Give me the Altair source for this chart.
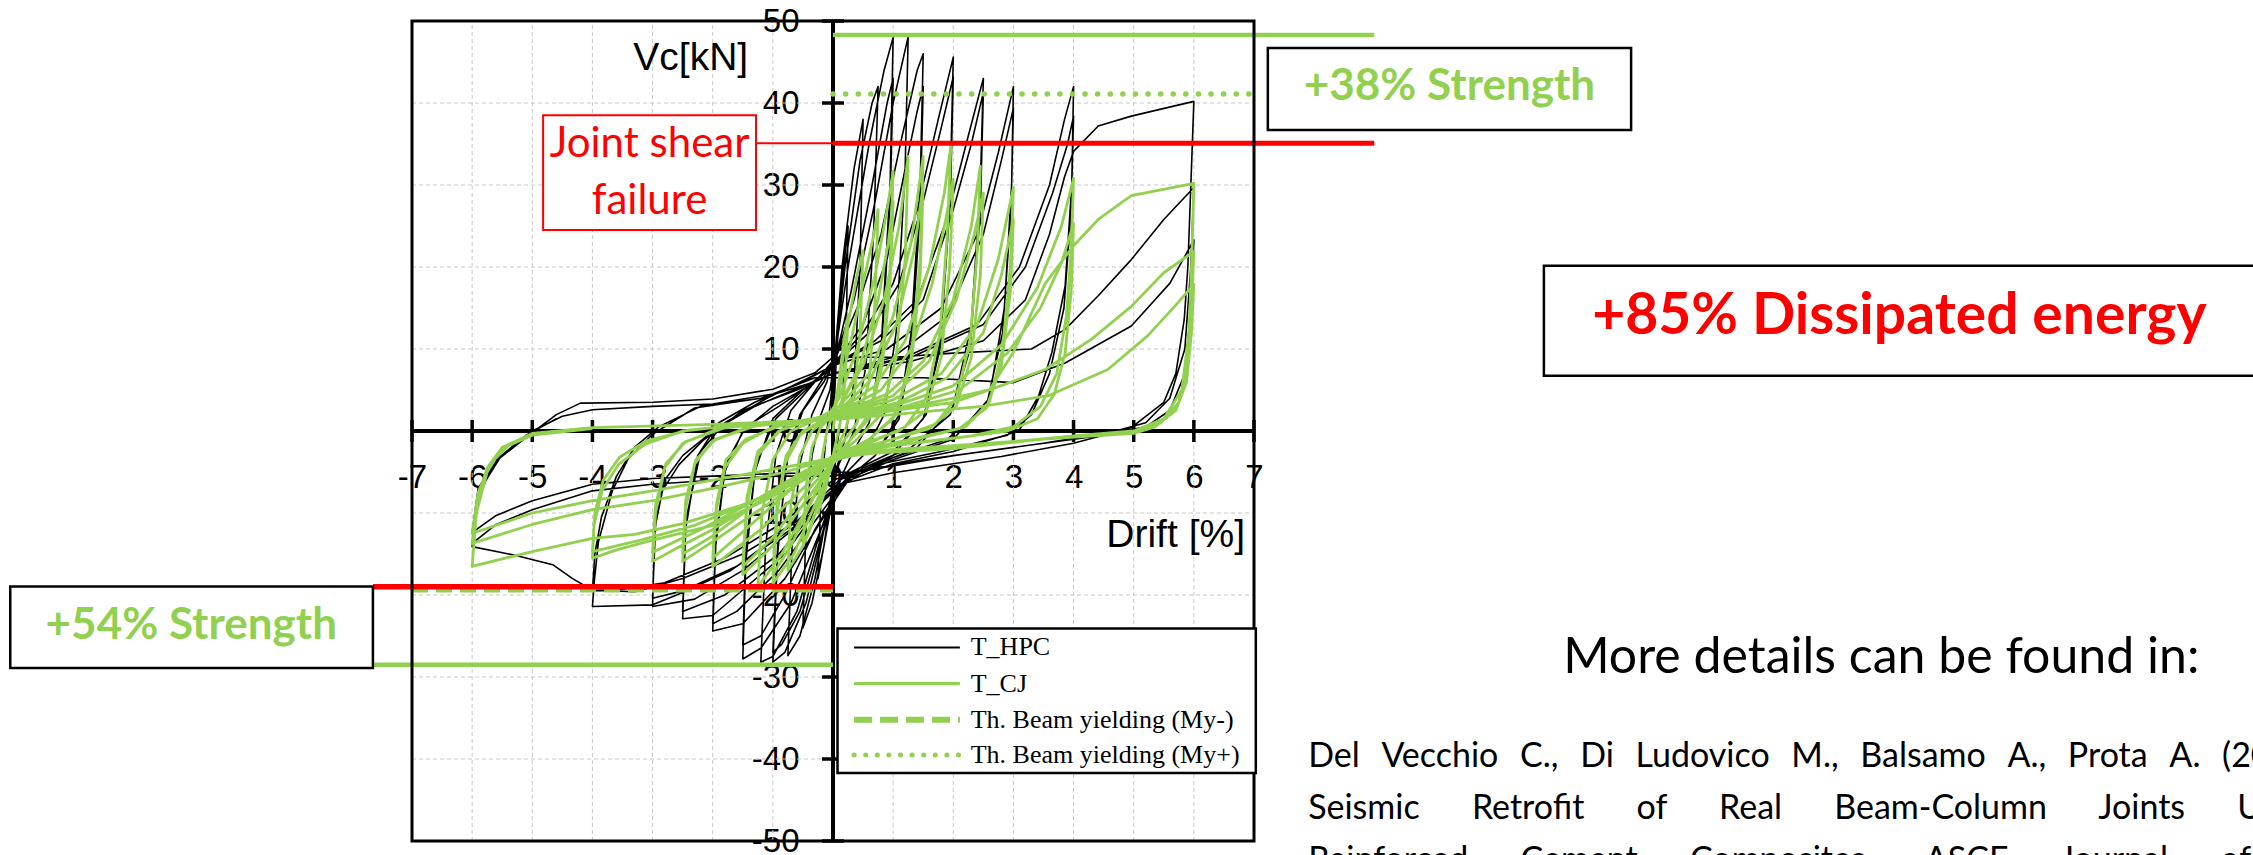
import altair as alt
import pandas as pd

# ---------------- data ----------------
X_TICKS = list(range(-7, 8))
Y_TICKS = list(range(-50, 60, 10))

# T_HPC hysteresis (drift %, Vc kN)
HPC = [
    # 0.25 %
    (0.0, 0.0), (0.05, 8), (0.12, 16), (0.25, 25), (0.22, 12), (0.15, 3), (0.05, -3), (-0.05, -10), (-0.25, -18), (-0.2, -8), (-0.12, -1), (-0.05, 3),
    # 0.5 %
    (0.02, 8), (0.15, 20), (0.35, 32), (0.5, 38), (0.45, 20), (0.35, 6), (0.2, -1), (0.0, -6), (-0.15, -14), (-0.35, -21), (-0.5, -24), (-0.45, -12), (-0.35, -3), (-0.2, 2), (-0.05, 5),
    # 0.75 %
    (0.05, 10), (0.2, 20), (0.45, 33), (0.65, 40), (0.75, 42), (0.68, 25), (0.55, 8), (0.35, 0), (0.1, -4), (-0.1, -10), (-0.3, -18), (-0.55, -25), (-0.75, -27.4), (-0.68, -14), (-0.55, -4), (-0.35, 2), (-0.1, 6),
    # 1.0 %
    (0.05, 10), (0.25, 20), (0.6, 35), (0.85, 44), (1.0, 48), (0.95, 30), (0.8, 10), (0.6, 1), (0.3, -3), (0.05, -7), (-0.15, -12), (-0.45, -21), (-0.8, -27), (-1.0, -28.2), (-0.92, -15), (-0.78, -4), (-0.55, 2), (-0.2, 6),
    (0.05, 9), (0.3, 17), (0.65, 30), (0.9, 40), (1.0, 43), (0.95, 28), (0.8, 9), (0.6, 1), (0.3, -3), (0.05, -7), (-0.2, -13), (-0.55, -22), (-0.85, -26), (-1.0, -27), (-0.92, -14), (-0.75, -3), (-0.5, 2.5), (-0.15, 6),
    # 1.25 %
    (0.05, 9), (0.35, 16), (0.7, 28), (1.0, 40), (1.25, 48.1), (1.2, 32), (1.05, 12), (0.85, 2), (0.5, -3), (0.1, -6), (-0.2, -12), (-0.6, -22), (-1.0, -27.5), (-1.2, -28.2), (-1.12, -14), (-0.95, -3), (-0.7, 2.5), (-0.3, 6),
    # 1.5 %
    (0.05, 9), (0.4, 15), (0.8, 24), (1.15, 36), (1.4, 44), (1.5, 46), (1.45, 30), (1.3, 12), (1.1, 2), (0.7, -3), (0.2, -6), (-0.2, -12), (-0.7, -21), (-1.2, -26.5), (-1.5, -27.8), (-1.45, -16), (-1.3, -5), (-1.0, 1.5), (-0.5, 5),
    (0.0, 8), (0.5, 13), (0.9, 21), (1.2, 32), (1.4, 39), (1.5, 42), (1.45, 27), (1.3, 10), (1.1, 1.5), (0.7, -3), (0.2, -6), (-0.3, -12), (-0.8, -20), (-1.2, -25), (-1.5, -26.1), (-1.45, -14), (-1.28, -4), (-0.95, 1.5), (-0.45, 5),
    # 2.0 %
    (0.0, 8), (0.5, 12), (1.0, 18), (1.4, 27), (1.75, 38), (2.0, 45.6), (1.95, 30), (1.8, 12), (1.55, 2), (1.0, -3), (0.3, -5.5), (-0.2, -11), (-0.8, -18), (-1.5, -23.5), (-2.0, -24.4), (-1.95, -14), (-1.8, -5), (-1.5, 0), (-1.0, 3), (-0.4, 5.5),
    (0.0, 8), (0.6, 12), (1.1, 18), (1.5, 28), (1.8, 37), (2.0, 43.2), (1.95, 28), (1.78, 10), (1.5, 1.5), (1.0, -2.5), (0.3, -5), (-0.2, -10), (-0.9, -17), (-1.6, -22), (-2.0, -23.5), (-1.95, -13), (-1.78, -4), (-1.45, 0.5), (-0.9, 3), (-0.3, 6),
    # 2.5 %
    (0.0, 8), (0.7, 11), (1.4, 16), (1.9, 26), (2.25, 36), (2.5, 43), (2.45, 30), (2.3, 13), (2.0, 3), (1.4, -2), (0.6, -4.5), (-0.1, -8), (-0.8, -15), (-1.6, -20), (-2.0, -22.5), (-2.5, -22.9), (-2.45, -12), (-2.25, -3), (-1.9, 1), (-1.3, 3.5), (-0.5, 6),
    (0.0, 8), (0.8, 11), (1.5, 16), (2.0, 27), (2.3, 35), (2.5, 41.3), (2.45, 27), (2.28, 10), (1.95, 2), (1.3, -2), (0.5, -4.5), (-0.1, -8), (-0.9, -15), (-1.8, -20), (-2.5, -22), (-2.45, -11), (-2.2, -2.5), (-1.8, 1), (-1.1, 4), (-0.4, 6.5),
    # 3.0 %
    (0.0, 8), (0.9, 10), (1.8, 15), (2.4, 24), (2.75, 34), (3.0, 42), (2.97, 30), (2.85, 15), (2.6, 4), (2.0, -1), (1.0, -3.5), (0.2, -6), (-0.5, -11), (-1.5, -17), (-2.3, -20.5), (-3.0, -21.4), (-2.97, -13), (-2.9, -8), (-2.56, -4.1), (-2.17, -1.2), (-1.5, 2.5), (-0.6, 5),
    (0.0, 7), (1.0, 9), (1.9, 14), (2.5, 24), (2.8, 33), (3.0, 39.4), (2.96, 27), (2.82, 12), (2.55, 3), (1.9, -1), (0.9, -3.5), (0.1, -6), (-0.6, -11), (-1.6, -16.5), (-2.5, -19.5), (-3.0, -20.4), (-2.95, -11.4), (-2.8, -6), (-2.5, -3), (-2.0, 0), (-1.3, 3), (-0.5, 5.5),
    # 4.0 %
    (0.0, 7), (1.2, 9), (2.4, 13), (3.1, 20), (3.6, 30), (3.85, 38), (4.0, 42), (3.97, 30), (3.86, 17.7), (3.64, 9.6), (3.42, 4.3), (3.09, 0), (2.0, -2.5), (1.0, -4), (0.1, -6.5), (-0.7, -12), (-1.7, -17), (-2.6, -20), (-3.0, -21.2), (-4.0, -21.4), (-3.97, -18.4), (-3.9, -13.5), (-3.67, -7.3), (-3.4, -3.3), (-3.0, -0.4), (-2.3, 2.8), (-1.2, 4), (-0.3, 6),
    (0.0, 7), (1.3, 9), (2.5, 13), (3.2, 20), (3.65, 29), (3.9, 35), (4.0, 38.4), (3.96, 27), (3.84, 15), (3.6, 7), (3.3, 2), (2.9, -0.5), (1.8, -2.5), (0.8, -4), (0.0, -6), (-0.8, -11), (-1.8, -15.5), (-2.8, -18.5), (-3.5, -19.3), (-4.0, -19.5), (-3.96, -15), (-3.85, -10.5), (-3.6, -5.5), (-3.3, -2), (-2.9, 0.5), (-2.2, 3), (-1.2, 4), (-0.3, 6),
    # 6.0 %
    (0.0, 7), (1.3, 8.5), (2.5, 11), (3.2, 16), (3.6, 24), (3.85, 31), (4.0, 34.1), (4.41, 37.2), (4.96, 38.4), (6.0, 40.2), (5.95, 30), (5.9, 20), (5.84, 13.6), (5.7, 7), (5.5, 3.5), (4.96, 0.4), (4.0, -1.5), (2.8, -3.1), (1.0, -5.1), (0.1, -6.5), (-0.6, -11), (-1.5, -15), (-2.5, -18), (-3.3, -19.6), (-4.0, -19.4), (-4.33, -18.0), (-4.66, -16.3), (-5.32, -15.1), (-6.0, -14.1), (-5.88, -7.3), (-5.54, -3.3), (-5.0, -0.2), (-4.6, 2), (-4.2, 3.4), (-3.0, 3.5), (-2.0, 3.9), (-1.0, 5.1), (-0.3, 7.1),
    (0.0, 9), (1.0, 9), (2.0, 9.5), (3.3, 10), (3.86, 12.4), (4.41, 16.5), (4.96, 20.9), (5.5, 25.8), (6.0, 29.7), (5.95, 20), (5.85, 10), (5.6, 4), (5.2, 1), (4.7, 0), (3.5, -1.5), (2.0, -3), (0.8, -4.5), (0.0, -5.5), (-1.0, -5.5), (-2.0, -6), (-3.0, -6.5), (-4.0, -7.3), (-5.0, -9.6), (-5.6, -11.4), (-6.0, -13.7), (-5.88, -7), (-5.55, -3.2), (-5.0, 0), (-4.5, 1.8), (-4.0, 2.6), (-3.0, 3), (-2.0, 3.3), (-1.0, 4.5), (-0.3, 6.5),
    (0.0, 6.5), (1.5, 6.5), (3.0, 5.9), (3.86, 8.3), (4.96, 12.8), (5.6, 18), (6.0, 23.3), (5.95, 15), (5.85, 7), (5.6, 2.5), (5.2, 0.5), (4.5, -0.5), (3.0, -2), (1.5, -3.5), (0.3, -5), (-1.0, -5.2), (-2.0, -5.5), (-3.0, -5.8), (-4.0, -6.5), (-5.0, -8.5), (-5.6, -10.3), (-6.0, -12.4), (-5.9, -7), (-5.6, -3.5), (-5.1, -0.5), (-4.6, 1.5),
]

# T_CJ hysteresis (drift %, Vc kN)
CJ = [
    # 0.25 %
    (0.0, 0.0), (0.08, 5), (0.18, 11), (0.25, 14), (0.2, 6), (0.12, 1), (0.0, -3), (-0.12, -7), (-0.25, -10), (-0.2, -4), (-0.1, 0), (0.0, 2),
    # 0.5 %
    (0.08, 5), (0.25, 13), (0.4, 19), (0.5, 22), (0.45, 12), (0.35, 4), (0.2, 0), (0.0, -3), (-0.2, -8), (-0.38, -12), (-0.5, -14), (-0.45, -7), (-0.35, -2), (-0.2, 0.5), (0.0, 2),
    # 0.75 %
    (0.1, 5), (0.3, 11), (0.5, 18), (0.68, 24), (0.75, 27), (0.7, 16), (0.6, 6), (0.4, 1), (0.15, -1.5), (0.0, -4), (-0.25, -9), (-0.5, -14), (-0.75, -17), (-0.7, -9), (-0.55, -3), (-0.35, 0), (-0.1, 1.5),
    # 1.0 %
    (0.1, 4), (0.4, 10), (0.7, 19), (0.9, 27), (1.0, 31.7), (0.95, 20), (0.82, 9), (0.6, 2), (0.3, -1), (0.0, -4), (-0.3, -9), (-0.65, -15), (-1.0, -18.6), (-0.93, -10), (-0.8, -4), (-0.55, -0.5), (-0.2, 1.2),
    (0.1, 3), (0.45, 8), (0.75, 16), (0.92, 23), (1.0, 28), (0.95, 18), (0.82, 8), (0.6, 1.5), (0.3, -1), (0.0, -3.5), (-0.35, -8.5), (-0.7, -14), (-1.0, -17.5), (-0.93, -9), (-0.78, -3), (-0.5, 0), (-0.2, 1.2),
    # 1.25 %
    (0.1, 3), (0.5, 8), (0.85, 16), (1.1, 25), (1.25, 33.5), (1.2, 21), (1.05, 9), (0.8, 2), (0.4, -1), (0.0, -3.5), (-0.4, -9), (-0.85, -15), (-1.25, -19), (-1.18, -10), (-1.0, -3.5), (-0.7, 0), (-0.3, 1.3),
    # 1.5 %
    (0.1, 3), (0.6, 7), (1.0, 14), (1.3, 23), (1.5, 33.5), (1.45, 21), (1.3, 9), (1.05, 2), (0.6, -1), (0.1, -3), (-0.4, -8), (-1.0, -14), (-1.5, -17.5), (-1.43, -9), (-1.25, -3), (-0.9, 0), (-0.4, 1.3),
    (0.1, 2.5), (0.6, 6), (1.05, 13), (1.35, 22), (1.5, 30), (1.45, 19), (1.3, 8), (1.0, 1.5), (0.6, -1), (0.1, -3), (-0.45, -7.5), (-1.0, -13), (-1.5, -16.5), (-1.43, -8), (-1.25, -2.5), (-0.85, 0.2), (-0.4, 1.3),
    # 2.0 %
    (0.1, 2.5), (0.7, 5.5), (1.2, 11), (1.6, 20), (1.85, 29), (1.96, 34.8), (1.9, 24), (1.78, 12), (1.55, 4), (1.2, 0.5), (0.6, -1.5), (0.0, -3.3), (-0.5, -7), (-1.2, -12), (-2.0, -16.5), (-1.95, -10), (-1.8, -4.5), (-1.5, -1.5), (-1.0, 0.5), (-0.4, 1.3),
    (0.1, 2.3), (0.8, 5), (1.3, 10), (1.65, 18), (1.88, 26), (2.0, 30.7), (1.94, 20), (1.8, 9), (1.55, 2.5), (1.1, 0), (0.5, -1.5), (0.0, -3), (-0.6, -6.5), (-1.3, -11), (-2.0, -15.5), (-1.94, -9), (-1.78, -3.5), (-1.45, -1), (-0.9, 0.6), (-0.3, 1.3),
    # 2.5 %
    (0.1, 2.2), (0.9, 4.5), (1.5, 8.5), (2.0, 16), (2.3, 25), (2.45, 32.3), (2.4, 22), (2.28, 11), (2.05, 4), (1.7, 0.8), (1.0, -1), (0.2, -2.8), (-0.5, -6), (-1.3, -10), (-2.0, -13.5), (-2.5, -15.9), (-2.45, -9.5), (-2.3, -4), (-2.0, -1.2), (-1.4, 0.5), (-0.6, 1.2),
    (0.1, 2), (1.0, 4.3), (1.6, 8.5), (2.05, 16), (2.35, 24), (2.5, 29), (2.45, 19), (2.3, 9), (2.05, 3), (1.6, 0.3), (0.9, -1.2), (0.1, -2.8), (-0.6, -5.5), (-1.4, -9.5), (-2.0, -12.8), (-2.5, -15), (-2.45, -8.5), (-2.28, -3.5), (-1.95, -1), (-1.3, 0.6), (-0.5, 1.3),
    # 3.0 %
    (0.1, 2), (1.0, 3.8), (1.8, 7), (2.4, 13), (2.75, 21), (3.0, 29.7), (2.95, 20), (2.82, 10), (2.6, 3.5), (2.2, 0.5), (1.4, -1), (0.4, -2.5), (-0.4, -5), (-1.2, -8.5), (-2.0, -12), (-2.6, -14.3), (-3.0, -15.9), (-2.95, -10), (-2.8, -4.5), (-2.5, -1.5), (-1.9, 0.3), (-1.0, 1.0), (-0.3, 1.4),
    (0.1, 1.8), (1.1, 3.5), (1.9, 6.5), (2.5, 12), (2.8, 19), (3.0, 25.8), (2.95, 17), (2.8, 8), (2.55, 2.8), (2.1, 0.3), (1.3, -1), (0.3, -2.6), (-0.5, -5), (-1.3, -8.5), (-2.2, -12), (-3.0, -14.8), (-2.95, -9), (-2.78, -4), (-2.45, -1.3), (-1.8, 0.4), (-0.8, 1.1), (-0.2, 1.4),
    # 4.0 %
    (0.1, 1.8), (1.0, 3), (2.0, 5.5), (2.8, 10.5), (3.4, 17.5), (3.8, 25), (4.0, 30.8), (3.96, 22), (3.88, 14), (3.72, 7), (3.45, 3), (3.0, 0.5), (2.3, -0.6), (1.4, -1.4), (0.4, -2.4), (-0.3, -4.5), (-1.0, -8), (-2.0, -11.5), (-3.0, -13.3), (-3.6, -14.5), (-4.0, -15.5), (-3.97, -11.4), (-3.84, -7.3), (-3.57, -4.1), (-3.12, -1.6), (-2.5, 0), (-1.5, 0.8), (-0.5, 1.3),
    (0.1, 1.6), (1.1, 2.8), (2.1, 5), (2.9, 9.5), (3.45, 15), (3.8, 20.5), (4.0, 25.3), (3.96, 17), (3.86, 9.5), (3.68, 4.5), (3.4, 1.5), (2.9, 0), (2.0, -0.9), (1.0, -1.8), (0.2, -2.6), (-0.5, -5), (-1.3, -8.5), (-2.3, -11.5), (-3.2, -13.3), (-4.0, -14.7), (-3.96, -10), (-3.82, -6), (-3.55, -3.2), (-3.1, -1.2), (-2.4, 0.1), (-1.4, 0.8), (-0.4, 1.3),
    # 6.0 %
    (0.0, 1.5), (1.0, 2.5), (2.0, 3.5), (2.6, 5), (3.0, 9.6), (3.53, 18.0), (4.0, 22.6), (4.41, 25.8), (4.96, 28.7), (6.0, 30.2), (5.97, 22), (5.92, 12), (5.8, 5), (5.5, 1.5), (5.0, 0), (4.0, -0.6), (3.0, -1.4), (1.9, -2.2), (0.5, -2.8), (0.0, -3.5), (-0.5, -6), (-1.5, -9), (-2.5, -11.3), (-3.3, -12.6), (-4.0, -13.1), (-5.0, -14.7), (-6.0, -16.5), (-5.93, -10), (-5.75, -5), (-5.5, -2), (-5.0, -0.3), (-4.0, 0.4), (-2.0, 0.8), (-0.5, 1.2),
    (0.0, 1.4), (1.0, 2.5), (2.0, 4), (2.64, 5.1), (3.53, 7.5), (4.3, 11.2), (4.96, 15.2), (5.5, 19.3), (6.0, 21.9), (5.96, 15), (5.9, 8), (5.75, 3.5), (5.45, 1), (5.0, 0), (4.0, -0.6), (3.0, -1.3), (2.0, -2.0), (0.8, -2.6), (0.0, -3.3), (-0.8, -5), (-2.0, -7), (-3.0, -8.5), (-4.0, -9.6), (-5.0, -11.4), (-6.0, -13.7), (-5.9, -8), (-5.75, -4.5), (-5.5, -2), (-5.0, -0.4), (-4.0, 0.4), (-2.0, 0.8), (0.0, 1.4),
    (1.0, 2), (2.48, 3.0), (3.58, 4.3), (4.57, 7.5), (5.23, 11.6), (5.73, 15.6), (6.0, 17.9), (5.96, 12), (5.88, 6), (5.7, 2.5), (5.35, 0.5), (5.0, -0.3), (3.5, -1), (2.0, -1.8), (0.5, -2.5), (-0.5, -4), (-2.0, -6), (-3.0, -7.3), (-4.0, -8.5), (-5.0, -10), (-6.0, -12.5), (-5.9, -7.5), (-5.7, -4), (-5.4, -1.8), (-5.0, -0.5), (-4.0, 0.3),
]

SERIES = ["T_HPC", "T_CJ", "Th. Beam yielding (My-)", "Th. Beam yielding (My+)"]

# reference levels (kN)
GREEN_TOP = 48.3       # T_HPC max strength (+)
RED_TOP = 35.1         # joint shear failure (+)
MY_PLUS = 41.1         # theoretical beam yielding (My+)
MY_MINUS = -19.4       # theoretical beam yielding (My-)
RED_BOTTOM = -19.0     # joint shear failure (-)
GREEN_BOTTOM = -28.5   # T_HPC max strength (-)

NB = "\u00a0"
CITATION = [
    (NB * 2 + "\u2009").join("Del Vecchio C., Di Ludovico M., Balsamo A., Prota A. (2018).".split(" ")),
    (NB * 6).join(["Seismic", "Retrofit", "of", "Real", "Beam-Column", "Joints", "Using", "Fiber-"]),
    (NB * 6).join(["Reinforced", "Cement", "Composites.", "ASCE", "Journal", "of"]),
]

# ---------------- styling ----------------
GREEN = "#92D050"
RED = "#FF0000"
GRID = "#c8c8c8"
SANS = "Liberation Sans"
CAL = "Lato"

XS = alt.Scale(domain=[-7, 7], nice=False, zero=False)
YS = alt.Scale(domain=[-50, 50], nice=False, zero=False)
XAX = alt.Axis(values=X_TICKS, offset=-410, domain=False, ticks=False, tickSize=0, grid=False,
               labelFontSize=33, labelFont=SANS, labelColor="black", labelPadding=30,
               labelOverlap=False, labelFlush=False, labelExpr="'' + datum.value", title=None)
YAX = alt.Axis(values=Y_TICKS, offset=-421, domain=False, ticks=False, tickSize=0, grid=False,
               labelFontSize=33, labelFont=SANS, labelColor="black", labelPadding=34,
               labelOverlap=False, labelFlush=False, labelExpr="'' + datum.value", title=None)


def X(f):
    return alt.X(f, type="quantitative", scale=XS, axis=XAX)


def Y(f):
    return alt.Y(f, type="quantitative", scale=YS, axis=YAX)


def hline(y, x0, x1, color, width, dash=None, cap="butt"):
    df = pd.DataFrame({"x": [x0], "x2": [x1], "y": [y]})
    kw = dict(color=color, strokeWidth=width, strokeCap=cap)
    if dash:
        kw["strokeDash"] = dash
    return alt.Chart(df).mark_rule(**kw).encode(x=X("x"), x2="x2", y=Y("y"))


def box(x0, x1, y0, y1, stroke, width, fill="white"):
    df = pd.DataFrame({"x": [x0], "x2": [x1], "y": [y0], "y2": [y1]})
    return alt.Chart(df).mark_rect(fill=fill, stroke=stroke, strokeWidth=width).encode(
        x=X("x"), x2="x2", y=Y("y"), y2="y2")


def label(t, x, y, size, color="black", font=CAL, weight="normal", align="center", baseline="middle"):
    df = pd.DataFrame({"x": [x], "y": [y], "t": [t]})
    return alt.Chart(df).mark_text(fontSize=size, font=font, fontWeight=weight, color=color,
                                   align=align, baseline=baseline).encode(x=X("x"), y=Y("y"), text="t:N")


def curve(pts, color, width):
    df = pd.DataFrame({"x": [p[0] for p in pts], "y": [p[1] for p in pts], "i": list(range(len(pts)))})
    return alt.Chart(df).mark_line(color=color, strokeWidth=width, strokeJoin="round").encode(
        x=X("x"), y=Y("y"), order="i:Q")


# grid (interior lines only, the frame is drawn separately)
GX = X_TICKS[1:-1]
GY = Y_TICKS[1:-1]
gx = alt.Chart(pd.DataFrame({"x": GX, "y": [-50] * len(GX), "y2": [50] * len(GX)})).mark_rule(
    color=GRID, strokeWidth=1, strokeDash=[4, 3]).encode(x=X("x"), y=Y("y"), y2="y2")
gy = alt.Chart(pd.DataFrame({"y": GY, "x": [-7] * len(GY), "x2": [7] * len(GY)})).mark_rule(
    color=GRID, strokeWidth=1, strokeDash=[4, 3]).encode(y=Y("y"), x=X("x"), x2="x2")

# axes lines through the origin + crossing ticks
ax_h = hline(0, -7, 7, "black", 4)
ax_v = alt.Chart(pd.DataFrame({"x": [0], "y": [-50], "y2": [50]})).mark_rule(color="black", strokeWidth=4).encode(
    x=X("x"), y=Y("y"), y2="y2")
tk_x = alt.Chart(pd.DataFrame({"x": X_TICKS, "y": [0] * len(X_TICKS)})).mark_tick(
    orient="vertical", size=22, thickness=3.5, color="black", opacity=1).encode(x=X("x"), y=Y("y"))
tk_y = alt.Chart(pd.DataFrame({"y": Y_TICKS, "x": [0] * len(Y_TICKS)})).mark_tick(
    orient="horizontal", size=22, thickness=3.5, color="black", opacity=1).encode(x=X("x"), y=Y("y"))

frame = box(-7, 7, 50, -50, "black", 3, fill="transparent")

hpc = curve(HPC, "black", 1.6)
cj = curve(CJ, GREEN, 2.8)

refs = [
    hline(GREEN_TOP, 0, 9.0, GREEN, 4.5),
    hline(MY_PLUS, 0, 7, GREEN, 5.5, dash=[0.1, 12.5], cap="round"),
    hline(RED_TOP, -1.28, 0, RED, 2),
    hline(RED_TOP, 0, 9.0, RED, 5),
    hline(MY_MINUS, -7, 0, GREEN, 5, dash=[16, 8]),
    hline(RED_BOTTOM, -7.65, 0, RED, 5.5),
    hline(GREEN_BOTTOM, -7.65, 0, GREEN, 4.5),
]

# legend (drawn as marks inside the plot)
LEG_Y = [-26.4, -30.8, -35.2, -39.5]
legend = [
    box(0.075, 7.03, -24.1, -41.7, "black", 2.5),
    hline(LEG_Y[0], 0.35, 2.11, "black", 2),
    hline(LEG_Y[1], 0.35, 2.11, GREEN, 3.2),
    hline(LEG_Y[2], 0.35, 2.11, GREEN, 6, dash=[18, 8]),
    hline(LEG_Y[3], 0.35, 2.11, GREEN, 5, dash=[0.1, 11.5], cap="round"),
]
for s, yy in zip(SERIES, LEG_Y):
    legend.append(label(s, 2.29, yy, 26, font="Liberation Serif", align="left"))

notes = [
    label("Vc[kN]", -1.41, 45.5, 39, font=SANS, align="right"),
    label("Drift [%]", 6.85, -12.7, 39, font=SANS, align="right"),
    box(-4.82, -1.28, 38.5, 24.5, RED, 2),
    label("Joint shear", -3.05, 35.0, 42, color=RED),
    label("failure", -3.05, 28.1, 42, color=RED),
    box(7.23, 13.27, 46.7, 36.7, "black", 2.5),
    label("+38% Strength", 10.25, 41.9, 44, color=GREEN, weight="bold"),
    box(11.82, 24.0, 20.16, 6.74, "black", 2.5),
    label("+85% Dissipated energy", 17.73, 13.9, 57, color=RED, weight="bold"),
    box(-13.68, -7.65, -18.95, -28.9, "black", 2.5),
    label("+54% Strength", -10.67, -23.8, 44, color=GREEN, weight="bold"),
    label("More details can be found in:", 17.43, -27.7, 50),
    label(CITATION[0], 7.9, -40.94, 34, align="left", baseline="alphabetic"),
    label(CITATION[1], 7.9, -47.3, 34, align="left", baseline="alphabetic"),
    label(CITATION[2], 7.9, -53.6, 34, align="left", baseline="alphabetic"),
]

chart = alt.layer(gx, gy, ax_h, ax_v, tk_x, tk_y, hpc, cj, *refs, frame, *legend, *notes).properties(
    width=842, height=820,
    padding={"left": 412, "top": 21, "right": 999, "bottom": 14},
    autosize=alt.AutoSizeParams(type="none"),
    background="white",
).configure_view(stroke=None)

chart.save("out.html", embed_options={"renderer": "svg", "actions": False})
